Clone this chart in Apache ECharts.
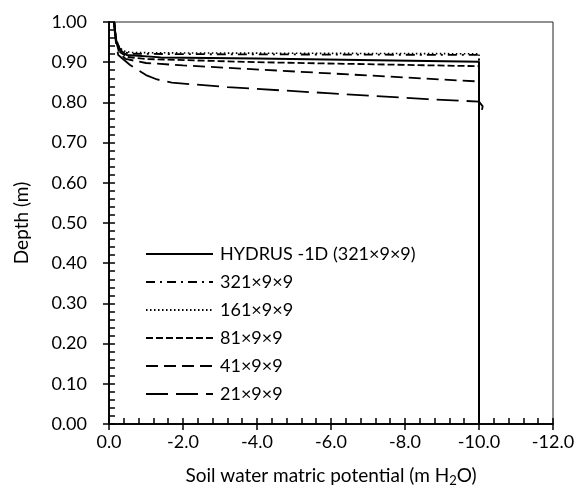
<!DOCTYPE html>
<html>
<head>
<meta charset="utf-8">
<script src="https://cdn.jsdelivr.net/npm/echarts@6/dist/echarts.min.js"></script>
<style>
    html, body { margin: 0; padding: 0; background: #fff; }
    #chart { width: 584px; height: 498px; }
</style>
</head>
<body>
<div id="chart"></div>
<script>
// values: potential (m H2O) and depth (m)
const seriesNames = ['HYDRUS -1D (321×9×9)', '321×9×9', '161×9×9', '81×9×9', '41×9×9', '21×9×9'];

const hydrusPot = [-0.14, -0.16, -0.2, -0.3, -0.48, -1.4, -4.0, -10, -10];
const hydrusDepth = [1.0, 0.98, 0.951, 0.93, 0.918, 0.912, 0.909, 0.901, 0];

const n321Pot = [-0.14, -0.16, -0.2, -0.28, -0.4, -0.6, -2.0, -6.0, -10, -10];
const n321Depth = [1.0, 0.98, 0.955, 0.935, 0.925, 0.921, 0.92, 0.919, 0.918, 0];

const n161Pot = [-0.14, -0.16, -0.2, -0.28, -0.4, -0.6, -2.0, -6.0, -10, -10];
const n161Depth = [1.0, 0.98, 0.955, 0.937, 0.928, 0.924, 0.923, 0.922, 0.921, 0];

const n81Pot = [-0.14, -0.16, -0.2, -0.3, -0.5, -1.0, -4.0, -10, -10];
const n81Depth = [1.0, 0.98, 0.95, 0.925, 0.913, 0.908, 0.9, 0.89, 0];

const n41Pot = [-0.14, -0.16, -0.2, -0.27, -0.45, -1.0, -2.0, -6.0, -10, -10];
const n41Depth = [1.0, 0.98, 0.95, 0.925, 0.908, 0.898, 0.892, 0.872, 0.852, 0];

const n21Pot = [-0.14, -0.16, -0.2, -0.25, -0.57, -1.0, -1.3, -1.7, -3.2, -5.9, -8.6, -10, -10.1, -10.07, -10, -10];
const n21Depth = [1.0, 0.97, 0.94, 0.918, 0.893, 0.868, 0.857, 0.849, 0.838, 0.823, 0.808, 0.802, 0.79, 0.777, 0.772, 0];

const potTicks = [0, -2, -4, -6, -8, -10, -12];
const depthTicks = [0, 0.1, 0.2, 0.3, 0.4, 0.5, 0.6, 0.7, 0.8, 0.9, 1.0];

const pots = [hydrusPot, n321Pot, n161Pot, n81Pot, n41Pot, n21Pot];
const depths = [hydrusDepth, n321Depth, n161Depth, n81Depth, n41Depth, n21Depth];
const dashes = ['solid', [9, 5, 2, 5], [1.5, 2.5], [7, 3], [12, 6], [22, 8]];
const widths = [2, 1.8, 1.6, 1.8, 1.8, 1.8];

const font = 'Lato, "Open Sans", sans-serif';

const myChart = echarts.init(document.getElementById('chart'), null, {renderer: 'canvas'});

const xBase = {
    type: 'value',
    min: potTicks[potTicks.length - 1],
    max: potTicks[0],
    interval: 2,
    inverse: true,
    splitLine: {show: false},
    axisLine: {onZero: false, lineStyle: {color: '#000', width: 1.5}}
};
const yBase = {
    type: 'value',
    min: depthTicks[0],
    max: depthTicks[depthTicks.length - 1],
    interval: 0.1,
    splitLine: {show: false},
    axisLine: {onZero: false, lineStyle: {color: '#000', width: 1.5}}
};

myChart.setOption({
    animation: false,
    grid: {
        left: 109,
        right: 31,
        top: 22,
        bottom: 74,
        show: true,
        borderColor: '#222',
        borderWidth: 1,
        outerBoundsMode: 'none'
    },
    xAxis: [
        Object.assign({}, xBase, {
            position: 'bottom',
            axisTick: {show: true, inside: false, length: 6, lineStyle: {color: '#000', width: 1.5}},
            axisLabel: {
                color: '#000', fontSize: 18, fontFamily: font, margin: 9,
                formatter: v => v.toFixed(1)
            },
            name: 'Soil water matric potential (m H{sub|2}O)',
            nameLocation: 'middle',
            nameGap: 41,
            nameMoveOverlap: false,
            nameTextStyle: {
                color: '#000', fontSize: 19, fontFamily: font,
                rich: {sub: {fontSize: 13, fontFamily: font, color: '#000', verticalAlign: 'bottom', padding: [9, 0, 0, 0]}}
            }
        }),
        Object.assign({}, xBase, {
            position: 'bottom',
            axisTick: {show: true, inside: true, length: 6, lineStyle: {color: '#000', width: 1.5}},
            minorTick: {show: true, splitNumber: 5, length: 6, lineStyle: {color: '#000', width: 1.5}},
            axisLabel: {show: false}
        })
    ],
    yAxis: [
        Object.assign({}, yBase, {
            position: 'left',
            axisTick: {show: true, inside: false, length: 6, lineStyle: {color: '#000', width: 1.5}},
            axisLabel: {
                color: '#000', fontSize: 18, fontFamily: font, margin: 22,
                formatter: v => v.toFixed(2)
            },
            name: 'Depth (m)',
            nameLocation: 'middle',
            nameGap: 78,
            nameMoveOverlap: false,
            nameTextStyle: {color: '#000', fontSize: 19, fontFamily: font}
        }),
        Object.assign({}, yBase, {
            position: 'left',
            axisTick: {show: true, inside: true, length: 6, lineStyle: {color: '#000', width: 1.5}},
            minorTick: {show: true, splitNumber: 5, length: 6, lineStyle: {color: '#000', width: 1.5}},
            axisLabel: {show: false}
        })
    ],
    legend: {
        orient: 'vertical',
        left: 140,
        top: 240,
        itemWidth: 67,
        itemHeight: 16,
        itemGap: 10,
        data: seriesNames,
        itemStyle: {opacity: 0},
        textStyle: {color: '#000', fontSize: 18, fontFamily: font, padding: [0, 0, 0, 2]}
    },
    series: seriesNames.map((name, i) => ({
        name: name,
        type: 'line',
        xAxisIndex: 0,
        yAxisIndex: 0,
        symbol: 'none',
        smooth: false,
        data: pots[i].map((p, j) => [p, depths[i][j]]),
        lineStyle: {color: '#000', width: widths[i], type: dashes[i]},
        itemStyle: {color: '#000'},
        z: 10 - i
    }))
});
</script>
</body>
</html>
